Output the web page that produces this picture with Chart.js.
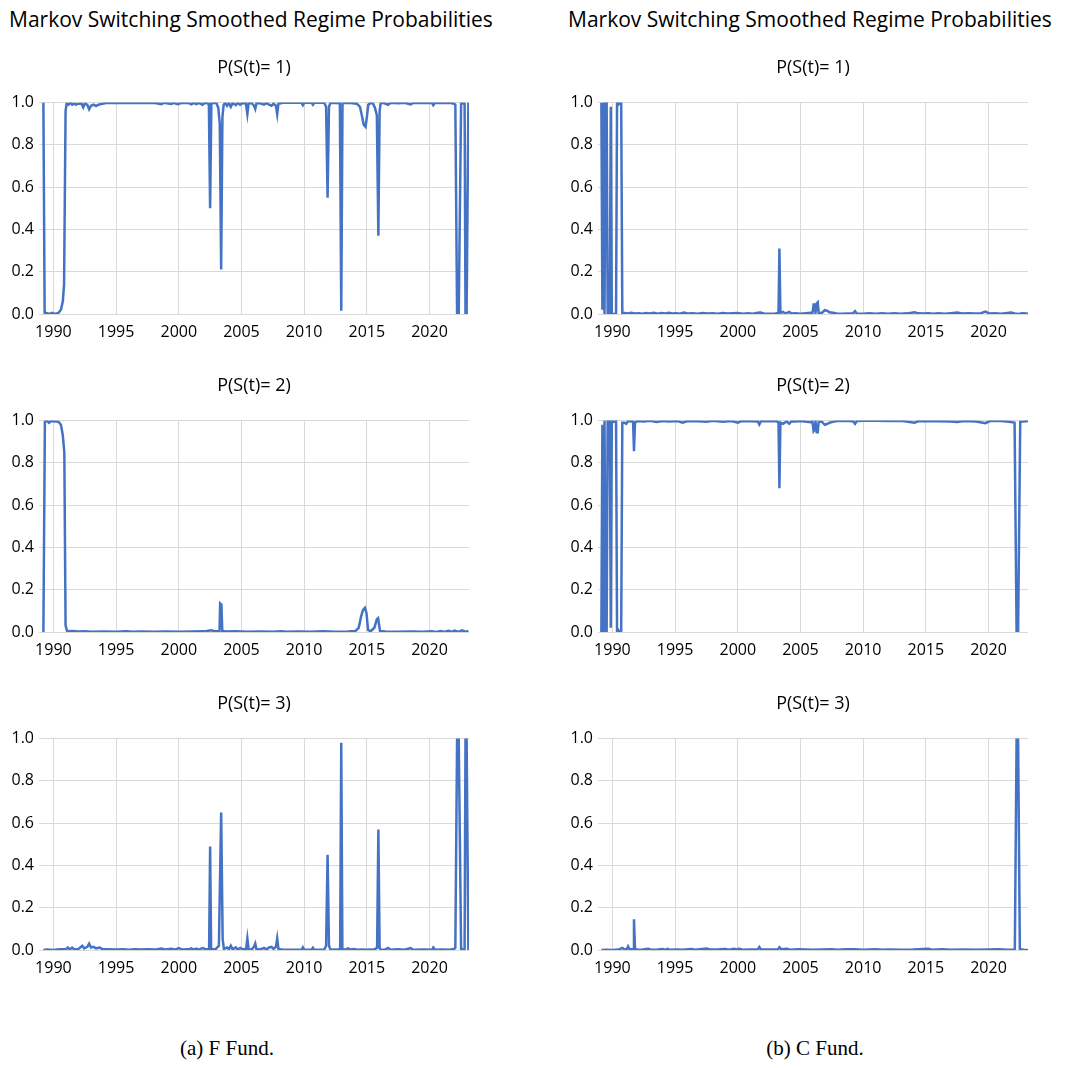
<!DOCTYPE html>
<html>
<head>
<meta charset="utf-8">
<script src="https://cdn.jsdelivr.net/npm/chart.js@4.4.0/dist/chart.umd.min.js"></script>
<style>
  body { margin: 0; background: #fff; }
  #page { position: relative; width: 1066px; height: 1068px; background: #fff; overflow: hidden; }
  canvas { position: absolute; }
  .head { position: absolute; top: 5px; font-family: "Open Sans", sans-serif; font-size: 21px; color: #000; white-space: nowrap; }
  .cap { position: absolute; top: 1036px; width: 300px; text-align: center; font-family: "Liberation Serif", serif; font-size: 21px; color: #000; }
</style>
</head>
<body>
<div id="page">
  <div class="head" style="left:9px">Markov Switching Smoothed Regime Probabilities</div>
  <div class="head" style="left:568px">Markov Switching Smoothed Regime Probabilities</div>
  <canvas id="f1" width="475" height="306" style="left:0;top:40px"></canvas>
  <canvas id="f2" width="475" height="306" style="left:0;top:358px"></canvas>
  <canvas id="f3" width="475" height="306" style="left:0;top:676px"></canvas>
  <canvas id="c1" width="475" height="306" style="left:559px;top:40px"></canvas>
  <canvas id="c2" width="475" height="306" style="left:559px;top:358px"></canvas>
  <canvas id="c3" width="475" height="306" style="left:559px;top:676px"></canvas>
  <div class="cap" style="left:77px">(a) F Fund.</div>
  <div class="cap" style="left:665px">(b) C Fund.</div>
</div>
<script>
// tick years and panel titles
var tickYears = [1990, 1995, 2000, 2005, 2010, 2015, 2020];
var panelTitles = ['P(S(t)= 1)', 'P(S(t)= 2)', 'P(S(t)= 3)'];

// F Fund, smoothed probabilities: [year, prob]
var fundF_s1 = [[1989.2,1.0],[1989.3,0.0],[1989.4,0.005],[1989.7,0.0],[1989.9,0.005],[1990.1,0.0],[1990.4,0.005],[1990.6,0.02],[1990.75,0.06],[1990.85,0.14],[1990.97,0.96],[1991.05,0.995],[1991.2,0.99],[1991.35,1.0],[1991.5,0.99],[1991.65,0.995],[1991.8,0.99],[1992.0,0.995],[1992.25,0.995],[1992.38,0.978],[1992.5,0.995],[1992.7,0.99],[1992.85,0.968],[1993.0,0.985],[1993.2,0.99],[1993.4,0.984],[1993.6,0.99],[1993.9,0.995],[1994.2,0.998],[1995,0.998],[1996,0.999],[1997,0.998],[1998,0.999],[1998.6,0.993],[1998.8,0.999],[1999.4,0.994],[1999.6,0.999],[1999.9,0.992],[2000.2,0.998],[2000.8,0.998],[2001.0,0.992],[2001.2,0.999],[2001.4,0.993],[2001.6,0.999],[2001.9,0.99],[2002.1,0.999],[2002.4,0.995],[2002.5,0.5],[2002.6,0.995],[2002.8,0.999],[2003.0,0.998],[2003.15,0.975],[2003.27,0.9],[2003.38,0.21],[2003.48,0.93],[2003.58,0.99],[2003.7,0.998],[2003.85,0.985],[2004.0,0.998],[2004.15,0.98],[2004.3,0.998],[2004.55,0.988],[2004.7,0.998],[2004.9,0.99],[2005.1,0.998],[2005.35,0.996],[2005.47,0.945],[2005.57,0.996],[2005.8,0.998],[2006.0,0.985],[2006.1,0.97],[2006.2,0.998],[2006.5,0.997],[2006.8,0.99],[2007.0,0.998],[2007.2,0.99],[2007.4,0.985],[2007.55,0.995],[2007.75,0.985],[2007.85,0.945],[2007.95,0.995],[2008.3,0.999],[2009,0.999],[2009.8,0.999],[2009.9,0.988],[2010.0,0.999],[2010.6,0.999],[2010.7,0.99],[2010.8,0.999],[2011.6,0.999],[2011.75,0.98],[2011.87,0.55],[2011.98,0.98],[2012.1,0.999],[2012.5,0.998],[2012.85,0.997],[2012.96,0.015],[2013.06,0.995],[2013.2,0.999],[2013.7,0.998],[2014.2,0.995],[2014.45,0.98],[2014.6,0.94],[2014.75,0.895],[2014.9,0.885],[2015.0,0.93],[2015.12,0.99],[2015.3,0.998],[2015.5,0.995],[2015.65,0.975],[2015.8,0.94],[2015.92,0.37],[2016.02,0.96],[2016.1,0.995],[2016.3,0.999],[2016.7,0.99],[2016.9,0.999],[2017.5,0.997],[2018.0,0.999],[2018.5,0.991],[2018.7,0.999],[2019.5,0.998],[2020.2,0.999],[2020.3,0.988],[2020.45,0.999],[2021.0,0.998],[2021.6,0.999],[2021.95,0.995],[2022.06,0.99],[2022.2,0.0],[2022.33,0.0],[2022.52,0.995],[2022.7,0.997],[2022.8,0.995],[2022.87,0.0],[2022.96,0.0],[2023.1,1.0]];
var fundF_s2 = [[1989.2,0.0],[1989.32,0.995],[1989.5,0.998],[1989.65,0.99],[1989.8,0.998],[1990.0,0.997],[1990.4,0.995],[1990.6,0.98],[1990.75,0.93],[1990.87,0.85],[1990.97,0.03],[1991.1,0.003],[1991.5,0.005],[1992.0,0.002],[1992.5,0.003],[1993,0.001],[1994,0.002],[1995,0.001],[1995.8,0.004],[1996.3,0.001],[1997,0.002],[1998,0.001],[1999,0.002],[2000,0.001],[2001,0.002],[2002,0.003],[2002.6,0.008],[2002.9,0.003],[2003.25,0.005],[2003.3,0.135],[2003.4,0.13],[2003.47,0.005],[2003.8,0.002],[2004.5,0.003],[2005.5,0.001],[2006.5,0.002],[2007.5,0.001],[2008.2,0.004],[2008.6,0.001],[2009.5,0.002],[2010.5,0.001],[2011.5,0.003],[2012.5,0.001],[2013.5,0.002],[2014.1,0.005],[2014.35,0.02],[2014.55,0.075],[2014.7,0.105],[2014.85,0.115],[2014.97,0.09],[2015.1,0.01],[2015.3,0.003],[2015.6,0.02],[2015.8,0.06],[2015.9,0.065],[2016.05,0.005],[2016.5,0.002],[2017.5,0.001],[2018.5,0.002],[2019.5,0.001],[2020.2,0.004],[2020.5,0.0],[2020.9,0.005],[2021.2,0.0],[2021.5,0.006],[2021.8,0.001],[2022.0,0.007],[2022.3,0.0],[2022.6,0.008],[2022.9,0.0],[2023.1,0.005]];
var fundF_s3 = [[1989.2,0.0],[1989.5,0.002],[1990,0.0],[1990.5,0.003],[1991.0,0.003],[1991.15,0.012],[1991.3,0.003],[1991.5,0.011],[1991.65,0.003],[1992.0,0.005],[1992.3,0.02],[1992.45,0.008],[1992.7,0.015],[1992.85,0.03],[1993.0,0.012],[1993.2,0.015],[1993.4,0.008],[1993.7,0.012],[1993.9,0.004],[1994.3,0.003],[1995,0.002],[1995.6,0.003],[1996,0.001],[1996.5,0.003],[1997,0.002],[1997.5,0.004],[1998.2,0.002],[1998.6,0.007],[1998.9,0.002],[1999.4,0.006],[1999.7,0.002],[2000.0,0.009],[2000.3,0.002],[2000.8,0.003],[2001.0,0.008],[2001.2,0.002],[2001.4,0.007],[2001.6,0.002],[2001.9,0.009],[2002.2,0.003],[2002.42,0.005],[2002.5,0.49],[2002.58,0.005],[2002.9,0.002],[2003.2,0.02],[2003.38,0.65],[2003.5,0.05],[2003.6,0.005],[2003.85,0.012],[2004.0,0.003],[2004.15,0.02],[2004.3,0.003],[2004.55,0.012],[2004.7,0.002],[2004.9,0.01],[2005.1,0.003],[2005.37,0.004],[2005.47,0.055],[2005.57,0.003],[2005.8,0.002],[2006.0,0.015],[2006.1,0.03],[2006.2,0.002],[2006.5,0.003],[2006.8,0.01],[2007.0,0.002],[2007.2,0.012],[2007.4,0.015],[2007.55,0.005],[2007.75,0.015],[2007.85,0.055],[2007.95,0.005],[2008.3,0.001],[2009,0.001],[2009.8,0.001],[2009.9,0.012],[2010.0,0.001],[2010.6,0.001],[2010.7,0.01],[2010.8,0.001],[2011.6,0.001],[2011.75,0.02],[2011.87,0.45],[2011.98,0.02],[2012.1,0.001],[2012.5,0.002],[2012.87,0.003],[2012.96,0.98],[2013.05,0.005],[2013.2,0.001],[2013.5,0.008],[2013.7,0.002],[2014.0,0.005],[2014.2,0.001],[2014.6,0.002],[2015.0,0.001],[2015.3,0.002],[2015.5,0.001],[2015.82,0.01],[2015.92,0.57],[2016.02,0.01],[2016.1,0.002],[2016.4,0.001],[2016.7,0.01],[2016.9,0.001],[2017.5,0.003],[2018.0,0.001],[2018.5,0.009],[2018.7,0.001],[2019.5,0.002],[2020.2,0.001],[2020.3,0.012],[2020.45,0.001],[2021.0,0.002],[2021.6,0.001],[2021.95,0.005],[2022.06,0.01],[2022.2,1.0],[2022.33,1.0],[2022.52,0.005],[2022.7,0.003],[2022.8,0.005],[2022.87,1.0],[2022.96,1.0],[2023.1,0.0]];

// C Fund
var fundC_s1 = [[1989.12,1.0],[1989.2,0.02],[1989.29,1.0],[1989.37,0.0],[1989.45,1.0],[1989.54,1.0],[1989.62,0.0],[1989.7,0.0],[1989.79,0.0],[1989.87,0.98],[1989.95,0.0],[1990.04,0.0],[1990.12,0.0],[1990.2,0.0],[1990.29,0.0],[1990.37,1.0],[1990.45,0.99],[1990.54,1.0],[1990.62,0.995],[1990.7,1.0],[1990.79,0.0],[1990.9,0.005],[1991.2,0.002],[1991.5,0.006],[1991.8,0.002],[1992.1,0.004],[1992.4,0.001],[1992.7,0.005],[1993.0,0.002],[1993.3,0.006],[1993.6,0.001],[1993.9,0.005],[1994.2,0.002],[1994.5,0.006],[1994.8,0.002],[1995.1,0.004],[1995.4,0.001],[1995.7,0.007],[1996.0,0.002],[1996.4,0.004],[1996.8,0.001],[1997.2,0.005],[1997.6,0.002],[1998.0,0.004],[1998.4,0.001],[1998.8,0.005],[1999.2,0.002],[1999.6,0.004],[2000.0,0.005],[2000.4,0.001],[2000.8,0.003],[2001.2,0.001],[2001.6,0.006],[2001.8,0.007],[2002.1,0.002],[2002.6,0.001],[2003.0,0.002],[2003.25,0.005],[2003.32,0.31],[2003.4,0.005],[2003.6,0.01],[2003.8,0.002],[2004.1,0.01],[2004.3,0.002],[2004.6,0.003],[2005.0,0.001],[2005.4,0.004],[2005.8,0.006],[2005.95,0.002],[2006.05,0.045],[2006.12,0.045],[2006.2,0.005],[2006.3,0.05],[2006.38,0.055],[2006.45,0.005],[2006.7,0.005],[2006.95,0.018],[2007.15,0.015],[2007.3,0.008],[2007.6,0.006],[2007.9,0.002],[2008.3,0.001],[2008.8,0.002],[2009.2,0.003],[2009.35,0.013],[2009.5,0.002],[2010,0.001],[2010.5,0.004],[2011,0.001],[2011.5,0.003],[2012,0.001],[2012.5,0.003],[2013,0.001],[2013.5,0.003],[2014.1,0.008],[2014.4,0.003],[2014.8,0.002],[2015.2,0.004],[2015.6,0.001],[2016.0,0.003],[2016.5,0.001],[2017,0.004],[2017.5,0.007],[2017.9,0.002],[2018.4,0.004],[2018.9,0.002],[2019.4,0.004],[2019.75,0.011],[2020.1,0.002],[2020.5,0.003],[2021.0,0.001],[2021.5,0.005],[2021.8,0.007],[2022.1,0.003],[2022.4,0.0],[2022.7,0.004],[2023.0,0.002],[2023.15,0.001]];
var fundC_s2 = [[1989.12,0.0],[1989.2,0.98],[1989.29,0.0],[1989.37,1.0],[1989.45,0.0],[1989.54,0.0],[1989.62,1.0],[1989.7,0.995],[1989.79,1.0],[1989.87,0.02],[1989.95,1.0],[1990.04,1.0],[1990.12,0.995],[1990.2,1.0],[1990.29,1.0],[1990.37,0.0],[1990.45,0.01],[1990.54,0.0],[1990.62,0.005],[1990.7,0.0],[1990.79,0.99],[1990.95,0.99],[1991.1,0.985],[1991.25,0.998],[1991.65,0.995],[1991.72,0.855],[1991.8,0.99],[1992.0,0.998],[1992.5,0.996],[1993,0.999],[1993.5,0.994],[1994,0.998],[1994.5,0.996],[1995.2,0.998],[1995.6,0.99],[1996,0.998],[1996.8,0.997],[1997.5,0.995],[1998,0.999],[1998.8,0.995],[1999.5,0.998],[2000.0,0.99],[2000.3,0.998],[2001,0.997],[2001.6,0.996],[2001.72,0.982],[2001.85,0.997],[2002.5,0.998],[2003.1,0.997],[2003.25,0.99],[2003.32,0.68],[2003.4,0.99],[2003.6,0.985],[2003.9,0.996],[2004.1,0.985],[2004.3,0.997],[2004.6,0.996],[2005.0,0.998],[2005.5,0.995],[2005.8,0.992],[2005.95,0.997],[2006.05,0.95],[2006.12,0.955],[2006.2,0.995],[2006.3,0.945],[2006.38,0.945],[2006.45,0.995],[2006.7,0.995],[2006.95,0.98],[2007.15,0.985],[2007.3,0.99],[2007.6,0.994],[2007.9,0.998],[2008.5,0.999],[2009.2,0.997],[2009.35,0.985],[2009.5,0.998],[2010,0.999],[2011,0.999],[2012,0.998],[2013,0.999],[2014.1,0.99],[2014.4,0.997],[2015,0.998],[2016,0.997],[2017,0.996],[2017.5,0.993],[2018,0.998],[2019,0.996],[2019.75,0.988],[2020.1,0.998],[2021,0.998],[2021.8,0.993],[2022.08,0.99],[2022.24,0.0],[2022.36,0.0],[2022.53,0.995],[2022.8,0.996],[2023.15,0.998]];
var fundC_s3 = [[1989.12,0.0],[1989.5,0.001],[1990,0.0],[1990.5,0.002],[1990.79,0.01],[1991.0,0.002],[1991.15,0.005],[1991.25,0.017],[1991.35,0.005],[1991.65,0.004],[1991.72,0.145],[1991.8,0.005],[1992.0,0.001],[1992.4,0.002],[1992.85,0.006],[1993.1,0.001],[1993.6,0.002],[1994.0,0.005],[1994.2,0.001],[1994.4,0.006],[1994.6,0.001],[1995.2,0.002],[1995.6,0.001],[1996.3,0.005],[1996.6,0.001],[1997.5,0.007],[1997.8,0.002],[1998.5,0.003],[1999.0,0.005],[1999.3,0.001],[1999.7,0.006],[2000.0,0.001],[2000.1,0.006],[2000.4,0.001],[2001.0,0.002],[2001.6,0.003],[2001.72,0.014],[2001.85,0.002],[2002.5,0.002],[2003.2,0.003],[2003.32,0.013],[2003.45,0.004],[2003.9,0.006],[2004.2,0.001],[2004.8,0.003],[2005.5,0.002],[2006,0.001],[2006.7,0.002],[2007.5,0.004],[2008,0.001],[2008.6,0.003],[2009.3,0.004],[2010,0.001],[2011.0,0.004],[2011.5,0.001],[2012,0.002],[2013,0.001],[2014,0.002],[2015.2,0.006],[2015.5,0.001],[2016.3,0.003],[2017,0.001],[2018,0.002],[2019,0.001],[2020,0.002],[2020.8,0.003],[2021.5,0.001],[2022.0,0.002],[2022.1,0.005],[2022.24,1.0],[2022.36,1.0],[2022.5,0.004],[2022.8,0.001],[2023.15,0.0]];

var LINE = '#4472C4';
var GRID = '#d9d9d9';
var TICKFONT = { family: '"Open Sans", sans-serif', size: 16 };

function makeChart(id, series, title) {
  new Chart(document.getElementById(id), {
    type: 'line',
    data: {
      datasets: [{
        data: series.map(function (p) { return { x: p[0], y: p[1] }; }),
        borderColor: LINE,
        borderWidth: 2.5,
        pointRadius: 0,
        tension: 0,
        fill: false
      }]
    },
    options: {
      responsive: false,
      animation: false,
      layout: { padding: { left: 0, right: 6, top: 0, bottom: 0 } },
      plugins: {
        legend: { display: false },
        tooltip: { enabled: false },
        title: {
          display: true,
          text: title,
          fullSize: false,
          color: '#000',
          font: { family: '"Open Sans", sans-serif', size: 18, weight: 'normal' },
          padding: { top: 17, bottom: 24 }
        }
      },
      scales: {
        x: {
          type: 'linear',
          min: 1988.85,
          max: 2023.15,
          afterBuildTicks: function (scale) {
            scale.ticks = tickYears.map(function (v) { return { value: v }; });
          },
          afterFit: function (scale) { scale.height = 32; },
          grid: { color: GRID, drawTicks: false },
          border: { display: false },
          ticks: { color: '#000', font: TICKFONT, padding: 9, maxRotation: 0,
                    callback: function (v) { return String(v); } }
        },
        y: {
          min: 0,
          max: 1,
          afterFit: function (scale) { scale.width = 39; },
          grid: { color: GRID, drawTicks: false },
          border: { display: false },
          ticks: { color: '#000', font: TICKFONT, padding: 5, stepSize: 0.2,
                    callback: function (v) { return v.toFixed(1); } }
        }
      }
    }
  });
}

makeChart('f1', fundF_s1, panelTitles[0]);
makeChart('f2', fundF_s2, panelTitles[1]);
makeChart('f3', fundF_s3, panelTitles[2]);
makeChart('c1', fundC_s1, panelTitles[0]);
makeChart('c2', fundC_s2, panelTitles[1]);
makeChart('c3', fundC_s3, panelTitles[2]);
</script>
</body>
</html>
